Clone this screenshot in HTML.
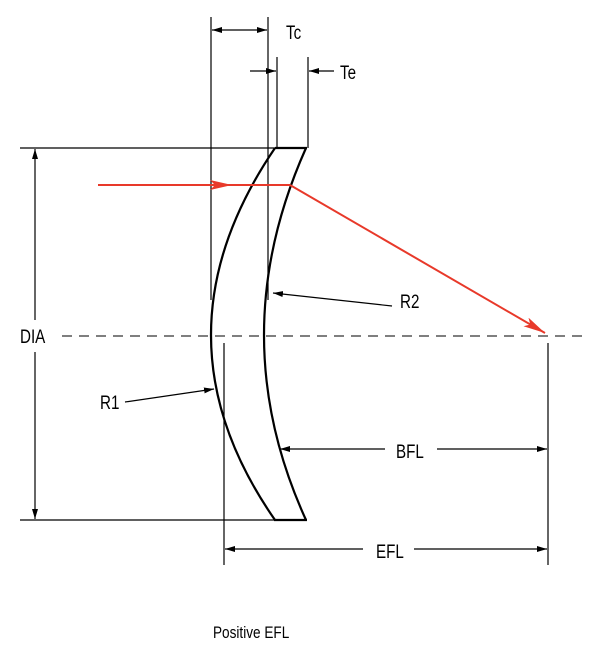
<!DOCTYPE html>
<html><head><style>html,body{margin:0;padding:0;background:#fff}</style></head><body>
<svg width="600" height="660" viewBox="0 0 600 660" xmlns="http://www.w3.org/2000/svg" font-family="Liberation Sans, sans-serif">
<defs>
<marker id="a" viewBox="0 0 10 6" refX="10" refY="3" markerWidth="10" markerHeight="6" markerUnits="userSpaceOnUse" orient="auto"><path d="M0,0L10,3L0,6z" fill="#000"/></marker>
<marker id="r" viewBox="0 0 22 10" refX="22" refY="5" markerWidth="22" markerHeight="10" markerUnits="userSpaceOnUse" orient="auto"><path d="M0,0L22,5L0,10L5,5z" fill="#e8392a"/></marker>
</defs>
<g stroke="#000" stroke-width="1.2" fill="none">
<line x1="211" y1="17" x2="211" y2="300"/>
<line x1="268" y1="17" x2="268" y2="300"/>
<line x1="277" y1="57" x2="277" y2="148"/>
<line x1="308" y1="57" x2="308" y2="148"/>
<line x1="240" y1="30" x2="212" y2="30" marker-end="url(#a)"/>
<line x1="240" y1="30" x2="267" y2="30" marker-end="url(#a)"/>
<line x1="250" y1="71" x2="276" y2="71" marker-end="url(#a)"/>
<line x1="334" y1="71" x2="309" y2="71" marker-end="url(#a)"/>
<line x1="20" y1="148" x2="276" y2="148"/>
<line x1="20" y1="520" x2="276" y2="520"/>
<line x1="35" y1="320" x2="35" y2="149" marker-end="url(#a)"/>
<line x1="35" y1="352" x2="35" y2="519" marker-end="url(#a)"/>
<line x1="62" y1="336" x2="585" y2="336" stroke-dasharray="10,7" stroke="#333"/>
<line x1="224" y1="343" x2="224" y2="565"/>
<line x1="548" y1="343" x2="548" y2="565"/>
<line x1="385" y1="449" x2="280" y2="449" marker-end="url(#a)"/>
<line x1="437" y1="449" x2="547" y2="449" marker-end="url(#a)"/>
<line x1="363" y1="549" x2="225" y2="549" marker-end="url(#a)"/>
<line x1="414" y1="549" x2="547" y2="549" marker-end="url(#a)"/>
<line x1="392" y1="306" x2="273" y2="293" marker-end="url(#a)"/>
<line x1="125" y1="402" x2="214" y2="389" marker-end="url(#a)"/>
</g>
<g stroke="#000" stroke-width="2.2" fill="none">
<path d="M275,148 Q147,336 275,520"/>
<path d="M306,148 Q222,336 306,520"/>
<line x1="275" y1="148" x2="307" y2="148"/>
<line x1="274" y1="520" x2="307" y2="520"/>
</g>
<g stroke="#e8392a" stroke-width="2" fill="none">
<line x1="98" y1="185" x2="232" y2="185" marker-end="url(#r)"/>
<line x1="230" y1="185" x2="290" y2="185"/>
<line x1="290" y1="185" x2="545" y2="333" marker-end="url(#r)"/>
</g>
<g font-size="19" fill="#000">
<text transform="translate(286,39) scale(0.8,1)">Tc</text>
<text transform="translate(340,79) scale(0.8,1)">Te</text>
<text transform="translate(20,343) scale(0.8,1)">DIA</text>
<text transform="translate(400,308) scale(0.8,1)">R2</text>
<text transform="translate(100,409) scale(0.8,1)">R1</text>
<text transform="translate(396,458) scale(0.8,1)">BFL</text>
<text transform="translate(376,558) scale(0.8,1)">EFL</text>
<text transform="translate(213,638) scale(0.8,1)" font-size="17">Positive EFL</text>
</g>
</svg>
</body></html>
